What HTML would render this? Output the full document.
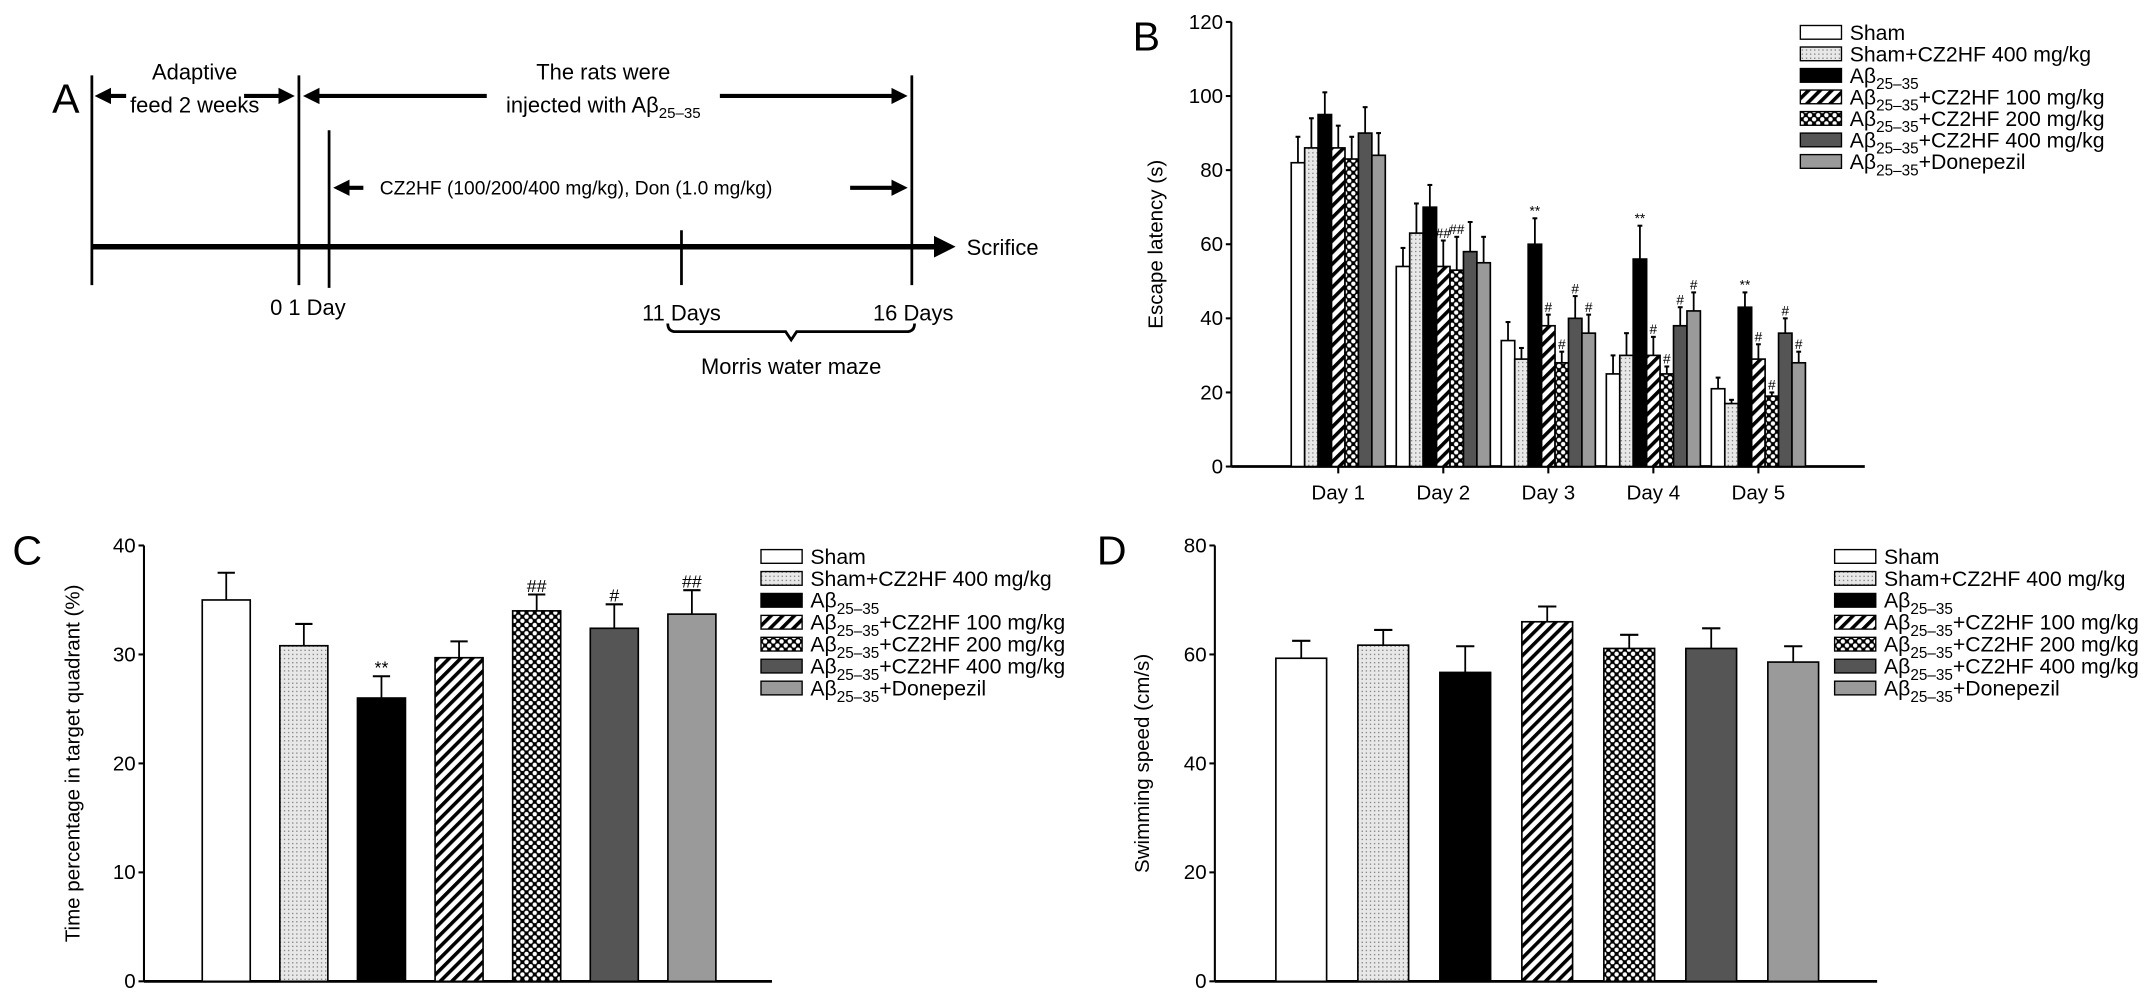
<!DOCTYPE html>
<html><head><meta charset="utf-8"><style>
html,body{margin:0;padding:0;background:#fff;}
svg{display:block;font-family:"Liberation Sans",Arial,sans-serif;}
</style></head><body>
<svg id="fig" width="2150" height="1006" viewBox="0 0 1568 734" preserveAspectRatio="none" xmlns="http://www.w3.org/2000/svg">
<defs>
<pattern id="pDots" width="3" height="3" patternUnits="userSpaceOnUse"><rect width="3" height="3" fill="#e8e8e8"/><rect width="1" height="1" fill="#888"/></pattern>
<pattern id="pDiag" width="6" height="6" patternUnits="userSpaceOnUse" patternTransform="rotate(45)"><rect width="6" height="6" fill="#fff"/><rect width="2.6" height="6" fill="#000"/></pattern>
<pattern id="pCross" width="6" height="6" patternUnits="userSpaceOnUse"><rect width="6" height="6" fill="#000"/><circle cx="3" cy="3" r="1.6" fill="#fff"/><circle cx="0" cy="0" r="1.6" fill="#fff"/><circle cx="6" cy="0" r="1.6" fill="#fff"/><circle cx="0" cy="6" r="1.6" fill="#fff"/><circle cx="6" cy="6" r="1.6" fill="#fff"/></pattern>
<marker id="ah" markerWidth="4" markerHeight="4" refX="3" refY="2" orient="auto" markerUnits="strokeWidth"><path d="M0,0 L4,2 L0,4 z" fill="#000"/></marker>
</defs>

<!-- Panel A -->
<g stroke="#000" fill="none">
<text x="38" y="82" font-size="30" fill="#000" stroke="none">A</text>
<line x1="67" y1="55" x2="67" y2="208" stroke-width="2"/>
<line x1="218" y1="55" x2="218" y2="208" stroke-width="2"/>
<line x1="240" y1="95" x2="240" y2="210" stroke-width="2"/>
<line x1="497" y1="168" x2="497" y2="208" stroke-width="2"/>
<line x1="665" y1="55" x2="665" y2="208" stroke-width="2"/>
<line x1="67" y1="180" x2="693" y2="180" stroke-width="4" marker-end="url(#ah)"/>
<line x1="92" y1="70" x2="72" y2="70" stroke-width="3" marker-end="url(#ah)"/>
<line x1="178" y1="70" x2="212" y2="70" stroke-width="3" marker-end="url(#ah)"/>
<line x1="355" y1="70" x2="224" y2="70" stroke-width="3" marker-end="url(#ah)"/>
<line x1="525" y1="70" x2="659" y2="70" stroke-width="3" marker-end="url(#ah)"/>
<line x1="265" y1="137" x2="246" y2="137" stroke-width="3" marker-end="url(#ah)"/>
<line x1="620" y1="137" x2="659" y2="137" stroke-width="3" marker-end="url(#ah)"/>
<path d="M487,236 q0,6 6,6 h80 l4,6 l4,-6 h80 q6,0 6,-6" stroke-width="2"/>
</g>
<g font-size="16" fill="#000">
<text x="142" y="58" text-anchor="middle">Adaptive</text>
<text x="142" y="82" text-anchor="middle">feed 2 weeks</text>
<text x="440" y="58" text-anchor="middle">The rats were</text>
<text x="440" y="82" text-anchor="middle">injected with Aβ<tspan font-size="11" dy="4">25–35</tspan></text>
<text x="277" y="142" font-size="14">CZ2HF (100/200/400 mg/kg), Don (1.0 mg/kg)</text>
<text x="705" y="186">Scrifice</text>
<text x="197" y="230">0 1 Day</text>
<text x="497" y="234" text-anchor="middle">11 Days</text>
<text x="666" y="234" text-anchor="middle">16 Days</text>
<text x="577" y="273" text-anchor="middle">Morris water maze</text>
</g>

<g id="panelB"></g>
<g id="panelC"></g>
<g id="panelD"></g>
</svg>
<script>
const seriesNames = ["Sham","Sham+CZ2HF 400 mg/kg","Aβ","Aβ+CZ2HF 100 mg/kg","Aβ+CZ2HF 200 mg/kg","Aβ+CZ2HF 400 mg/kg","Aβ+Donepezil"];
const seriesFills = ["#fff","url(#pDots)","#000","url(#pDiag)","url(#pCross)","#555","#9a9a9a"];
// Panel B
const dayLabels = ["Day 1","Day 2","Day 3","Day 4","Day 5"];
const bTicks = [0,20,40,60,80,100,120];
const bMeans = [
 [82,54,34,25,21],
 [86,63,29,30,17],
 [95,70,60,56,43],
 [86,54,38,30,29],
 [83,53,28,25,19],
 [90,58,40,38,36],
 [84,55,36,42,28]];
const bErr = [
 [89,59,39,30,24],
 [94,71,32,36,18],
 [101,76,67,65,47],
 [92,61,41,35,33],
 [89,62,31,27,20],
 [97,66,46,43,40],
 [90,62,41,47,31]];
const bMarks = [
 ["","","","",""],
 ["","","","",""],
 ["","","**","**","**"],
 ["","##","#","#","#"],
 ["","##","#","#","#"],
 ["","","#","#","#"],
 ["","","#","#","#"]];
// Panel C
const cTicks = [0,10,20,30,40];
const cMeans = [35,30.8,26,29.7,34,32.4,33.7];
const cErr = [37.5,32.8,28,31.2,35.5,34.6,35.9];
const cMarks = ["","","**","","##","#","##"];
// Panel D
const dTicks = [0,20,40,60,80];
const dMeans = [59.3,61.7,56.7,66,61.1,61.1,58.6];
const dErr = [62.5,64.5,61.5,68.8,63.6,64.8,61.5];

const NS="http://www.w3.org/2000/svg";
function mk(parent,tag,attrs,text){const e=document.createElementNS(NS,tag);for(const k in attrs)e.setAttribute(k,attrs[k]);if(text!==undefined)e.textContent=text;parent.appendChild(e);return e;}
function abLabel(parent,x,y,name,fs){
  const t=mk(parent,'text',{x:x,y:y,'font-size':fs,fill:'#000'});
  if(name.startsWith('Aβ')){
    t.appendChild(document.createTextNode('Aβ'));
    const s=document.createElementNS(NS,'tspan');s.setAttribute('font-size',fs*0.72);s.setAttribute('dy',fs*0.3);s.textContent='25–35';t.appendChild(s);
    const r=document.createElementNS(NS,'tspan');r.setAttribute('dy',-fs*0.3);r.textContent=name.slice(2);t.appendChild(r);
  } else t.textContent=name;
  return t;
}
function axes(g,x0,x1,y0,yScale,ticks,label,labelX,fs){
  const ax=mk(g,'line',{x1:x0,y1:y0,x2:x1,y2:y0,stroke:'#000','stroke-width':2});
  
  
  const ay=mk(g,'line',{x1:x0,y1:y0,x2:x0,y2:yScale(ticks[ticks.length-1]),stroke:'#000','stroke-width':1.5});
  
  
  ticks.forEach(t=>{
    mk(g,'line',{x1:x0-4,y1:yScale(t),x2:x0,y2:yScale(t),stroke:'#000','stroke-width':1.5});
    const tl=mk(g,'text',{x:x0-6,y:yScale(t)+5,'text-anchor':'end','font-size':fs,fill:'#000'},t);
    
    
  });
  const yc=(yScale(ticks[0])+yScale(ticks[ticks.length-1]))/2;
  const yl=mk(g,'text',{x:labelX,y:yc,'text-anchor':'middle','font-size':fs,fill:'#000',transform:`rotate(-90 ${labelX} ${yc})`},label);
  
  
}
function bar(g,cx,w,y0,yv,ye,fill,mark,fs){
  const r=mk(g,'rect',{x:cx-w/2,y:yv,width:w,height:y0-yv,fill:fill,stroke:'#000','stroke-width':1.2});
  
  
  mk(g,'line',{x1:cx,y1:yv,x2:cx,y2:ye,stroke:'#000','stroke-width':1.3});
  mk(g,'line',{x1:cx-w*0.18,y1:ye,x2:cx+w*0.18,y2:ye,stroke:'#000','stroke-width':1.5});
  if(mark){const m=mk(g,'text',{x:cx,y:ye-2,'text-anchor':'middle','font-size':fs,fill:'#000'},mark);
    
    }
}
function legend(g,x,y0,step,bw,bh,fs){
  seriesNames.forEach((n,i)=>{
    const y=y0+i*step;
    const b=mk(g,'rect',{x:x,y:y-bh/2,width:bw,height:bh,fill:seriesFills[i],stroke:'#000','stroke-width':1});
    
    
    const t=abLabel(g,x+bw+6,y+fs*0.35,n,fs);
    
    
  });
}
// B
(function(){
  const g=document.getElementById('panelB');
  const y0=340.4, yS=v=>y0-v*(324.4/120);
  mk(g,'text',{x:826,y:37,'font-size':30,fill:'#000'},'B');
  axes(g,898,1360,y0,yS,bTicks,'Escape latency (s)',848,15);
  const bw=9.8;
  dayLabels.forEach((d,j)=>{
    const c=976+j*76.6;
    mk(g,'line',{x1:c,y1:y0,x2:c,y2:y0+5,stroke:'#000','stroke-width':1.5});
    const dl=mk(g,'text',{x:c,y:y0+24,'text-anchor':'middle','font-size':15,fill:'#000'},d);
    
    
    for(let i=0;i<7;i++){
      const cx=c+(i-3)*bw;
      bar(g,cx,bw,y0,yS(bMeans[i][j]),yS(bErr[i][j]),seriesFills[i],bMarks[i][j],10);
    }
  });
  legend(g,1313,23.6,15.7,30,10,15.5);
})();
// C
(function(){
  const g=document.getElementById('panelC');
  const y0=716, yS=v=>y0-v*7.95;
  mk(g,'text',{x:9,y:412,'font-size':30,fill:'#000'},'C');
  axes(g,105,563,y0,yS,cTicks,'Time percentage in target quadrant (%)',58,15);
  cMeans.forEach((v,i)=>bar(g,165+i*56.6,35,y0,yS(v),yS(cErr[i]),seriesFills[i],cMarks[i],13));
  legend(g,555,406,16,30,10,15.5);
})();
// D
(function(){
  const g=document.getElementById('panelD');
  const y0=716, yS=v=>y0-v*3.975;
  mk(g,'text',{x:800,y:412,'font-size':30,fill:'#000'},'D');
  axes(g,886,1369,y0,yS,dTicks,'Swimming speed (cm/s)',838,15);
  dMeans.forEach((v,i)=>bar(g,949+i*59.8,37,y0,yS(v),yS(dErr[i]),seriesFills[i],'',13));
  legend(g,1338,406,16,30,10,15.5);
})();
</script>
</body></html>
